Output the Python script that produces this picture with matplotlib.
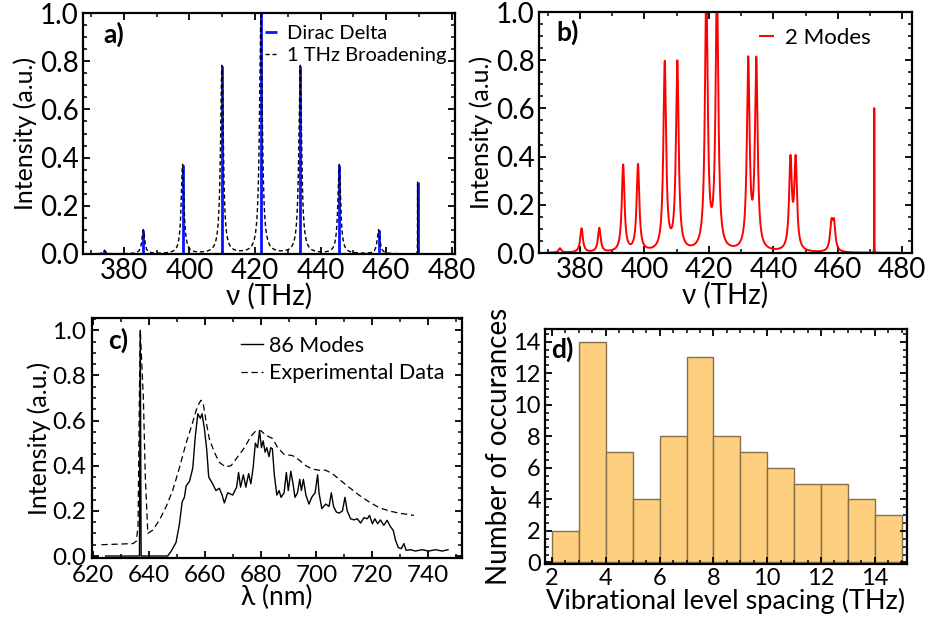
import numpy as np
import matplotlib
matplotlib.use("Agg")
import matplotlib.pyplot as plt
from matplotlib.ticker import MultipleLocator

plt.rcParams['font.family'] = ['Lato', 'DejaVu Sans']

# a) single mode: delta lines and 1 THz broadened lines (center THz, height, half width)
a_centers = [374.0, 385.9, 397.9, 409.9, 421.8, 433.8, 445.7, 457.7, 469.6]
a_heights = [0.015, 0.10, 0.37, 0.78, 1.0, 0.78, 0.37, 0.10, 0.30]
a_widths = [0.5, 0.5, 0.5, 0.5, 0.5, 0.5, 0.5, 0.5, 0.02]

# b) 2 modes
b_centers = [373.8, 380.5, 386.0, 393.4, 398.0, 406.3, 410.2, 419.2, 422.5,
             432.2, 434.7, 445.3, 446.9, 458.0, 458.8, 471.3]
b_heights = [0.018, 0.10, 0.10, 0.36, 0.36, 0.78, 0.78, 1.1, 1.1,
             0.78, 0.78, 0.37, 0.37, 0.11, 0.11, 0.60]
b_widths = [0.5, 0.5, 0.5, 0.5, 0.5, 0.5, 0.5, 0.5, 0.5,
            0.5, 0.5, 0.5, 0.5, 0.5, 0.5, 0.02]

# c) 86 modes vs experiment, wavelength (nm)
c_model_wl = [624.5, 636.6, 636.9, 637.2, 646.7, 647.9, 649.7, 650.9, 651.9, 652.7,
              653.3, 654.5, 655.7, 656.6, 657.5, 658.4, 659.0, 659.8, 660.7, 661.4,
              662.8, 664.0, 665.2, 666.2, 667.0, 668.2, 670.0, 671.4, 672.1, 672.8,
              673.8, 674.7, 675.7, 676.5, 677.3, 678.1, 678.9, 679.6, 680.3, 680.9,
              681.6, 682.2, 683.0, 683.6, 684.2, 684.9, 685.8, 686.6, 687.3, 688.4,
              689.2, 689.9, 690.8, 691.6, 692.3, 693.2, 694.0, 694.6, 695.3, 696.2,
              697.3, 698.3, 699.5, 700.4, 700.9, 701.9, 703.3, 704.5, 705.3, 706.1,
              707.1, 708.1, 709.3, 710.2, 711.0, 712.2, 713.4, 714.6, 715.8, 717.0,
              718.2, 719.0, 720.0, 720.9, 721.9, 722.9, 724.1, 725.3, 726.5, 727.5,
              728.3, 729.3, 730.4, 731.3, 732.1, 733.7, 735.4, 737.8, 740.2, 742.6,
              745.0, 747.1]
c_model_int = [0.0, 0.0, 1.0, 0.0, 0.0, 0.02, 0.06, 0.14, 0.24, 0.26,
               0.31, 0.33, 0.39, 0.53, 0.63, 0.61, 0.63, 0.57, 0.47, 0.35,
               0.32, 0.29, 0.30, 0.27, 0.235, 0.28, 0.27, 0.305, 0.37, 0.305,
               0.36, 0.305, 0.365, 0.32, 0.39, 0.50, 0.48, 0.555, 0.48, 0.51,
               0.46, 0.48, 0.44, 0.48, 0.475, 0.36, 0.27, 0.29, 0.26, 0.28,
               0.37, 0.29, 0.375, 0.32, 0.26, 0.28, 0.34, 0.29, 0.34, 0.27,
               0.23, 0.26, 0.28, 0.36, 0.28, 0.21, 0.23, 0.22, 0.28, 0.22,
               0.195, 0.19, 0.20, 0.26, 0.20, 0.165, 0.16, 0.165, 0.146, 0.17,
               0.165, 0.18, 0.143, 0.165, 0.143, 0.16, 0.136, 0.158, 0.13, 0.113,
               0.07, 0.037, 0.033, 0.055, 0.025, 0.028, 0.022, 0.028, 0.022, 0.028,
               0.022, 0.028]
c_exp_wl = [623.0, 634.3, 635.5, 636.1, 636.6, 636.9, 638.0, 638.7, 639.6, 641.4,
            643.8, 646.2, 648.5, 650.9, 653.3, 655.5, 656.9, 658.1, 658.7, 659.5,
            660.4, 661.6, 663.4, 665.2, 667.4, 669.4, 671.8, 674.2, 676.5, 678.3,
            680.1, 681.9, 684.3, 686.1, 688.4, 691.4, 693.8, 696.2, 698.5, 700.9,
            703.3, 705.7, 708.1, 711.6, 715.2, 718.8, 722.3, 725.9, 729.5, 734.9]
c_exp_int = [0.05, 0.055, 0.066, 0.135, 0.73, 1.0, 0.70, 0.35, 0.10, 0.115,
             0.16, 0.22, 0.29, 0.39, 0.50, 0.585, 0.645, 0.68, 0.69, 0.67,
             0.60, 0.52, 0.46, 0.415, 0.395, 0.40, 0.44, 0.48, 0.53, 0.555,
             0.555, 0.535, 0.52, 0.48, 0.45, 0.445, 0.425, 0.40, 0.385, 0.38,
             0.38, 0.365, 0.34, 0.305, 0.27, 0.24, 0.215, 0.20, 0.19, 0.18]

# d) histogram of level spacings
d_edges = [2, 3, 4, 5, 6, 7, 8, 9, 10, 11, 12, 13, 14, 15]
d_counts = [2, 14, 7, 4, 8, 13, 8, 7, 6, 5, 5, 4, 3]


def lorentz_sum(x, centers, heights, widths):
    y = np.zeros_like(x)
    for c0, h, g in zip(centers, heights, widths):
        y += h * g**2 / ((x - c0)**2 + g**2)
    return y


def style_axes(ax, xmaj, xmin, ymaj, ymin, size):
    ax.xaxis.set_major_locator(MultipleLocator(xmaj))
    ax.xaxis.set_minor_locator(MultipleLocator(xmin))
    ax.yaxis.set_major_locator(MultipleLocator(ymaj))
    ax.yaxis.set_minor_locator(MultipleLocator(ymin))
    ax.tick_params(which='both', direction='in', top=True, right=True, labelsize=size, pad=3)
    ax.tick_params(which='major', length=5, width=1.3)
    ax.tick_params(which='minor', length=3, width=1.1)
    for s in ax.spines.values():
        s.set_linewidth(1.6)


fig = plt.figure(figsize=(9.29, 6.23), dpi=100)

# ---- a)
nu = np.linspace(370, 480, 22001)
axa = fig.add_axes([0.0893, 0.5923, 0.4004, 0.3868])
axa.vlines(a_centers, 0, a_heights, color='#0a14ff', lw=2.0, label='Dirac Delta')
axa.plot(nu, lorentz_sum(nu, a_centers, a_heights, a_widths), color='black', lw=1.0,
         dashes=(3, 2), label='1 THz Broadening')
axa.set_xlim(367.5, 481)
axa.set_ylim(0, 1)
style_axes(axa, 20, 10, 0.2, 0.05, 20)
axa.set_xlabel('ν (THz)', fontsize=20, labelpad=-1)
axa.set_ylabel('Intensity (a.u.)', fontsize=18, labelpad=2)
axa.legend(loc='upper right', frameon=False, fontsize=14.5, handlelength=0.6,
           handletextpad=0.5, borderaxespad=0.0, labelspacing=0.25,
           bbox_to_anchor=(1.0, 0.985))
axa.text(0.054, 0.91, 'a)', transform=axa.transAxes, fontsize=19, fontweight='bold', va='center')

# ---- b)
axb = fig.add_axes([0.5802, 0.5939, 0.4015, 0.3868])
axb.plot(nu, lorentz_sum(nu, b_centers, b_heights, b_widths), color='red', lw=1.4, label='2 Modes')
axb.set_xlim(367.3, 483)
axb.set_ylim(0, 1)
style_axes(axb, 20, 10, 0.2, 0.05, 20)
axb.set_xlabel('ν (THz)', fontsize=20, labelpad=-1)
axb.set_ylabel('Intensity (a.u.)', fontsize=18, labelpad=2)
axb.legend(loc='upper right', frameon=False, fontsize=16, handlelength=0.6,
           handletextpad=0.5, borderaxespad=0.3, bbox_to_anchor=(0.93, 1.0))
axb.text(0.046, 0.917, 'b)', transform=axb.transAxes, fontsize=19, fontweight='bold', va='center')

# ---- c)
axc = fig.add_axes([0.0987, 0.1039, 0.3983, 0.3852])
axc.plot(c_model_wl, c_model_int, color='black', lw=1.0, label='86 Modes')
axc.plot(c_exp_wl, c_exp_int, color='black', lw=0.9, dashes=(5, 3), label='Experimental Data')
axc.set_xlim(619.5, 752)
axc.set_ylim(-0.01, 1.053)
style_axes(axc, 20, 10, 0.2, 0.05, 17.5)
axc.tick_params(axis='x', pad=5)
axc.tick_params(axis='y', pad=4)
axc.set_xlabel('λ (nm)', fontsize=19, labelpad=-1)
axc.set_ylabel('Intensity (a.u.)', fontsize=18, labelpad=1)
axc.legend(loc='upper right', frameon=False, fontsize=15.5, handlelength=1.0,
           handletextpad=0.3, borderaxespad=0.4, labelspacing=0.35)
axc.text(0.044, 0.91, 'c)', transform=axc.transAxes, fontsize=19, fontweight='bold', va='center')

# ---- d)
axd = fig.add_axes([0.5867, 0.0947, 0.3897, 0.3772])
axd.bar(d_edges[:-1], d_counts, width=1, align='edge', color='#fdcf7e',
        edgecolor='#85704a', linewidth=1.0)
axd.set_xlim(1.74, 15.2)
axd.set_ylim(-0.1, 14.8)
style_axes(axd, 2, 0.5, 2, 0.5, 17)
axd.set_xlabel('Vibrational level spacing (THz)', fontsize=19.5, labelpad=-1)
axd.set_ylabel('Number of occurances', fontsize=20, labelpad=1)
axd.text(0.017, 0.915, 'd)', transform=axd.transAxes, fontsize=19, fontweight='bold', va='center')

fig.savefig('out.png', dpi=100)
